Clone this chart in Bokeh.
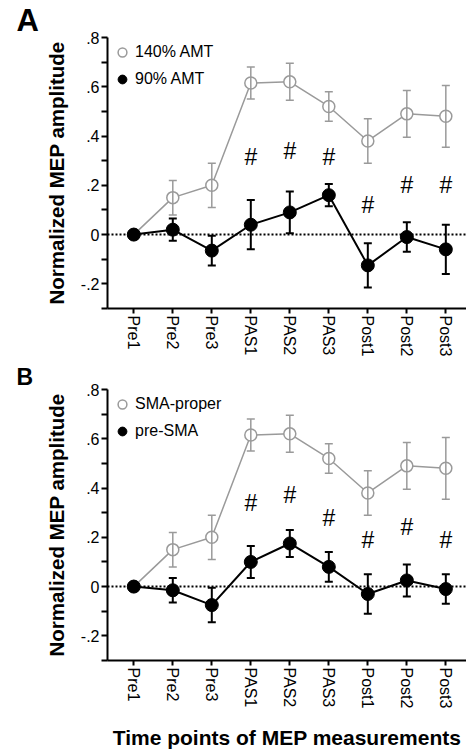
from bokeh.plotting import figure
from bokeh.models import (ColumnDataSource, Whisker, TeeHead, Span, Legend,
                          LegendItem, FixedTicker, Range1d, Title)
from bokeh.layouts import column
from bokeh.embed import file_html
from bokeh.resources import INLINE
from bokeh.core.properties import value

# ---------------- data ----------------
time_points = ["Pre1", "Pre2", "Pre3", "PAS1", "PAS2", "PAS3", "Post1", "Post2", "Post3"]

y_ticks = [-0.2, 0.0, 0.2, 0.4, 0.6, 0.8]
y_tick_labels = ["-.2", "0", ".2", ".4", ".6", ".8"]
y_minor_ticks = [-0.3, -0.1, 0.1, 0.3, 0.5, 0.7]

# Panel A
a_open_label = "140% AMT"
a_open_mean = [0.0, 0.15, 0.20, 0.615, 0.62, 0.52, 0.38, 0.49, 0.48]
a_open_err = [0.0, 0.07, 0.09, 0.065, 0.075, 0.06, 0.09, 0.095, 0.125]
a_filled_label = "90% AMT"
a_filled_mean = [0.0, 0.02, -0.065, 0.04, 0.09, 0.16, -0.125, -0.01, -0.06]
a_filled_err = [0.0, 0.045, 0.06, 0.10, 0.085, 0.045, 0.09, 0.06, 0.10]
a_hash_points = ["PAS1", "PAS2", "PAS3", "Post1", "Post2", "Post3"]
a_hash_y = [0.315, 0.34, 0.315, 0.12, 0.20, 0.20]

# Panel B
b_open_label = "SMA-proper"
b_open_mean = [0.0, 0.15, 0.20, 0.615, 0.62, 0.52, 0.38, 0.49, 0.48]
b_open_err = [0.0, 0.07, 0.09, 0.065, 0.075, 0.06, 0.09, 0.095, 0.125]
b_filled_label = "pre-SMA"
b_filled_mean = [0.0, -0.015, -0.075, 0.10, 0.175, 0.08, -0.03, 0.025, -0.01]
b_filled_err = [0.0, 0.05, 0.07, 0.065, 0.055, 0.06, 0.08, 0.065, 0.06]
b_hash_points = ["PAS1", "PAS2", "PAS3", "Post1", "Post2", "Post3"]
b_hash_y = [0.34, 0.37, 0.28, 0.19, 0.24, 0.19]

y_label = "Normalized MEP amplitude"
x_label = "Time points of MEP measurements"

FONT = "Liberation Sans"
GREY = "#9a9a9a"


def series_source(mean):
    return ColumnDataSource(dict(x=list(range(len(time_points))), y=mean))


def whisker_source(mean, err):
    xs = [i for i, e in enumerate(err) if e > 0]
    return ColumnDataSource(dict(
        x=xs,
        lower=[mean[i] - err[i] for i in xs],
        upper=[mean[i] + err[i] for i in xs],
    ))


def make_panel(letter, letter_size, open_label, open_mean, open_err,
               filled_label, filled_mean, filled_err, hash_points, hash_y,
               with_xlabel, top_border, bottom_border):
    title = Title(text=letter, align="left", offset=-91, standoff=0,
                  text_font=FONT, text_font_style="bold", text_font_size=letter_size,
                  text_color="black")
    p = figure(frame_width=359, frame_height=271, title=title,
               x_range=Range1d(-0.674, 8.53), y_range=Range1d(-0.3, 0.8),
               output_backend="svg", toolbar_location=None,
               min_border_left=107, min_border_right=0, min_border_top=top_border,
               min_border_bottom=bottom_border)
    p.xgrid.visible = False
    p.ygrid.visible = False
    p.outline_line_color = None
    p.background_fill_color = "white"
    p.border_fill_color = "white"

    # zero reference line
    p.add_layout(Span(location=0, dimension="width", line_color="black",
                      line_dash="2 2", line_width=2, level="underlay"))

    # open series (grey)
    osrc = series_source(open_mean)
    ow = Whisker(source=whisker_source(open_mean, open_err), base="x", lower="lower",
                 upper="upper", line_color=GREY, line_width=1.5, level="glyph",
                 upper_head=TeeHead(size=8, line_color=GREY, line_width=1.5),
                 lower_head=TeeHead(size=8, line_color=GREY, line_width=1.5))
    p.add_layout(ow)
    p.line("x", "y", source=osrc, line_color=GREY, line_width=1.5)
    r_open = p.scatter("x", "y", source=osrc, size=12, marker="circle",
                       line_color=GREY, line_width=1.5, fill_color="white")

    # filled series (black)
    fsrc = series_source(filled_mean)
    fw = Whisker(source=whisker_source(filled_mean, filled_err), base="x", lower="lower",
                 upper="upper", line_color="black", line_width=2, level="glyph",
                 upper_head=TeeHead(size=8, line_color="black", line_width=2),
                 lower_head=TeeHead(size=8, line_color="black", line_width=2))
    p.add_layout(fw)
    p.line("x", "y", source=fsrc, line_color="black", line_width=2)
    r_filled = p.scatter("x", "y", source=fsrc, size=13, marker="circle",
                         line_color="black", fill_color="black")

    # significance marks
    hsrc = ColumnDataSource(dict(x=[time_points.index(t) for t in hash_points],
                                 y=hash_y, t=["#"] * len(hash_points)))
    p.text("x", "y", text="t", source=hsrc, text_align="center",
           text_baseline="middle", text_font=value(FONT), text_font_size="23px",
           text_color="black")

    # legend
    legend = Legend(items=[LegendItem(label=open_label, renderers=[r_open]),
                           LegendItem(label=filled_label, renderers=[r_filled])],
                    location="top_left", margin=4, padding=5, spacing=5,
                    glyph_width=22, glyph_height=22, label_standoff=2,
                    label_text_font=FONT, label_text_font_size="16px",
                    label_text_color="black",
                    background_fill_alpha=0, border_line_color=None)
    p.add_layout(legend)

    # axes
    for ax in (p.xaxis[0], p.yaxis[0]):
        ax.axis_line_width = 2
        ax.axis_line_color = "black"
        ax.major_tick_line_width = 2
        ax.major_tick_line_color = "black"
        ax.major_label_text_font = FONT
        ax.major_label_text_font_size = "16px"
        ax.major_label_text_color = "black"
        ax.axis_label_text_font = FONT
        ax.axis_label_text_font_style = "bold"
        ax.axis_label_text_color = "black"

    ya = p.yaxis[0]
    ya.ticker = FixedTicker(ticks=y_ticks, minor_ticks=y_minor_ticks)
    ya.major_label_overrides = dict(zip(y_ticks, y_tick_labels))
    ya.major_tick_in = 0
    ya.major_tick_out = 6
    ya.minor_tick_in = 0
    ya.minor_tick_out = 6
    ya.minor_tick_line_width = 2
    ya.minor_tick_line_color = "black"
    ya.major_label_standoff = 2
    ya.axis_label = y_label
    ya.axis_label_text_font_size = "20.5px"
    ya.axis_label_standoff = 10

    xa = p.xaxis[0]
    xa.ticker = FixedTicker(ticks=list(range(len(time_points))), minor_ticks=[])
    xa.major_label_overrides = {i: t for i, t in enumerate(time_points)}
    xa.major_label_orientation = "vertical"
    xa.major_tick_in = 0
    xa.major_tick_out = 5
    xa.minor_tick_line_color = None
    xa.major_label_standoff = 2
    if with_xlabel:
        xa.axis_label = x_label
        xa.axis_label_text_font_size = "21px"
        xa.axis_label_standoff = 15
    return p


pa = make_panel("A", "31px", a_open_label, a_open_mean, a_open_err, a_filled_label,
                a_filled_mean, a_filled_err, a_hash_points, a_hash_y, False, 37, 52)
pb = make_panel("B", "23px", b_open_label, b_open_mean, b_open_err, b_filled_label,
                b_filled_mean, b_filled_err, b_hash_points, b_hash_y, True, 29, 89)

layout = column(pa, pb, spacing=0)
open("out.html", "w").write(file_html(layout, INLINE))
